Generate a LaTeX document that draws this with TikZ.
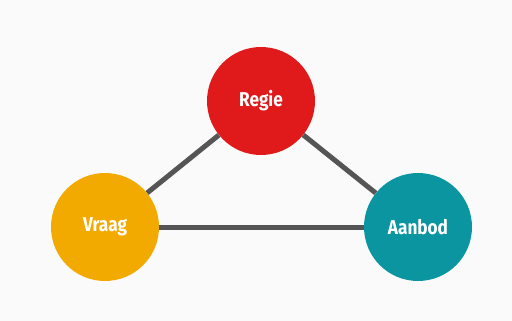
\documentclass[tikz,border=0pt]{standalone}
\usepackage{fontspec}
\setmainfont{Fira Sans}
\definecolor{bgc}{HTML}{FAFAFA}
\definecolor{regiec}{HTML}{E0191B}
\definecolor{vraagc}{HTML}{F2AA00}
\definecolor{aanbodc}{HTML}{0A95A0}
\definecolor{linkc}{HTML}{555555}
\tikzset{
  blob/.style={circle, minimum size=108pt, inner sep=0pt, text=white,
    font=\fontsize{20}{20}\selectfont\bfseries},
  link/.style={draw=linkc, line width=5pt}
}
\begin{document}
\begin{tikzpicture}[x=1pt,y=-1pt]
\fill[bgc] (0,0) rectangle (512,321);
\useasboundingbox (0,0) rectangle (512,321);
\node[blob, fill=regiec] (regie) at (261,101) {\scalebox{0.86}[1]{Regie}};
\node[blob, fill=vraagc] (vraag) at (105,227) {\scalebox{0.86}[1]{Vraag}};
\node[blob, fill=aanbodc] (aanbod) at (418,227) {\scalebox{0.86}[1]{Aanbod}};
\draw[link] (vraag) -- (regie);
\draw[link] (regie) -- (aanbod);
\draw[link] (vraag) -- (aanbod);
\end{tikzpicture}
\end{document}
